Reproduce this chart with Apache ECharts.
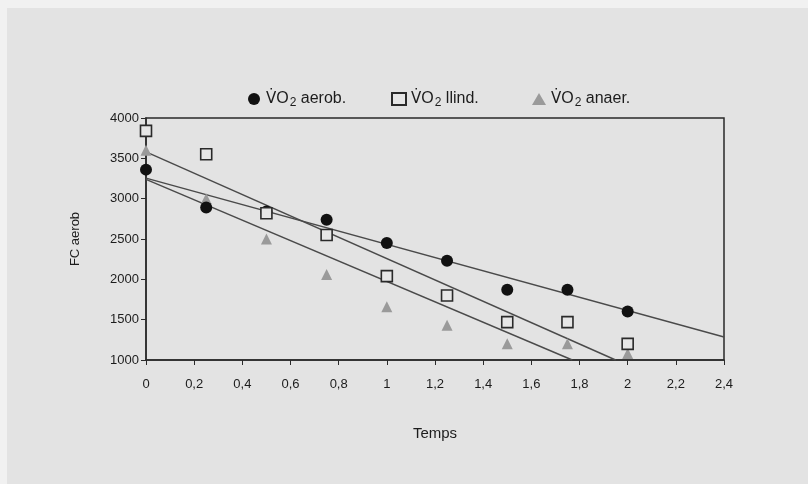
<!DOCTYPE html>
<html>
<head>
<meta charset="utf-8">
<script src="https://cdn.jsdelivr.net/npm/echarts@6/dist/echarts.min.js"></script>
<style>
  html, body { margin: 0; padding: 0; background: #f1f1f1; }
  #chart-container { width: 808px; height: 484px; }
</style>
</head>
<body>
<div id="chart-container"></div>
<script>
// time points (x) and the three VO2 measures
var temps = [0, 0.25, 0.5, 0.75, 1, 1.25, 1.5, 1.75, 2];
var aerob = [3360, 2890, 2840, 2740, 2450, 2230, 1870, 1870, 1600];
var llind = [3840, 3550, 2820, 2550, 2040, 1800, 1470, 1470, 1200];
var anaer = [3600, 3000, 2500, 2060, 1660, 1430, 1200, 1200, 1080];

// trend lines, end points
var aerobTrend = [[0, 3255], [2.4, 1285]];
var llindTrend = [[0, 3580], [1.95, 1000]];
var anaerTrend = [[0, 3240], [1.77, 1000]];

var names = ['aerob.', 'llind.', 'anaer.'];

function pairs(ys) {
    return temps.map(function (t, i) { return [t, ys[i]]; });
}

var dom = document.getElementById('chart-container');
var myChart = echarts.init(dom, null, { renderer: 'canvas' });

var trendStyle = { color: '#4a4a4a', width: 1.4 };
var ink = '#1c1c1c';

// one legend per item so each sits where the original puts it
function legendAt(name, left) {
    return {
        data: [name],
        left: left,
        top: 84,
        itemWidth: 14,
        itemHeight: 12,
        formatter: function (n) { return '{v|V\u0307}{n|O}{s|2}{n| ' + n + '}'; },
        textStyle: {
            color: ink,
            rich: {
                v: { fontSize: 15, lineHeight: 24, color: ink, fontFamily: 'DejaVu Sans' },
                n: { fontSize: 16, lineHeight: 24, color: ink },
                s: { fontSize: 12, lineHeight: 24, color: ink, padding: [8, 0, 0, 1] }
            }
        }
    };
}

var option = {
    backgroundColor: '#f1f1f1',
    animation: false,
    textStyle: { fontFamily: 'Liberation Sans, Arial, sans-serif' },
    graphic: [{
        type: 'rect',
        left: 7, top: 8,
        shape: { width: 801, height: 476 },
        style: { fill: '#e3e3e3' },
        z: -10
    }],
    legend: [legendAt(names[0], 243), legendAt(names[1], 386), legendAt(names[2], 527)],
    grid: {
        left: 146, right: 84, top: 118, bottom: 124,
        show: true,
        borderColor: '#2a2a2a',
        borderWidth: 1.5,
        backgroundColor: 'transparent'
    },
    xAxis: {
        type: 'value',
        min: 0, max: 2.4, interval: 0.2,
        name: 'Temps',
        nameLocation: 'middle',
        nameGap: 66,
        nameTextStyle: { fontSize: 15, color: ink },
        axisLine: { lineStyle: { color: '#2a2a2a', width: 1.5 } },
        axisTick: { length: 5, lineStyle: { color: '#2a2a2a' } },
        axisLabel: {
            fontSize: 13, color: ink, margin: 18,
            formatter: function (v) { return String(+v.toFixed(1)).replace('.', ','); }
        },
        splitLine: { show: false }
    },
    yAxis: {
        type: 'value',
        min: 1000, max: 4000, interval: 500,
        name: 'FC aerob',
        nameLocation: 'middle',
        nameGap: 64,
        nameRotate: 90,
        nameTextStyle: { fontSize: 13, color: ink },
        axisLine: { show: true, lineStyle: { color: '#2a2a2a', width: 1.5 } },
        axisTick: { show: true, length: 5, lineStyle: { color: '#2a2a2a' } },
        axisLabel: {
            fontSize: 13, color: ink, margin: 7,
            formatter: function (v) { return String(v); }
        },
        splitLine: { show: false }
    },
    series: [
        { type: 'line', data: aerobTrend, showSymbol: false, silent: true, lineStyle: trendStyle, z: 1 },
        { type: 'line', data: llindTrend, showSymbol: false, silent: true, lineStyle: trendStyle, z: 1 },
        { type: 'line', data: anaerTrend, showSymbol: false, silent: true, lineStyle: trendStyle, z: 1 },
        {
            name: names[0], type: 'scatter', data: pairs(aerob),
            symbol: 'circle', symbolSize: 12,
            itemStyle: { color: '#111', opacity: 1 }, z: 3
        },
        {
            name: names[1], type: 'scatter', data: pairs(llind),
            symbol: 'rect', symbolSize: 11,
            itemStyle: { color: '#e6e6e6', borderColor: '#2a2a2a', borderWidth: 1.6, opacity: 1 }, z: 3
        },
        {
            name: names[2], type: 'scatter', data: pairs(anaer),
            symbol: 'triangle', symbolSize: 11,
            itemStyle: { color: '#9a9a9a', opacity: 1 }, z: 2
        }
    ]
};

myChart.setOption(option);
window.addEventListener('resize', myChart.resize);
</script>
</body>
</html>
